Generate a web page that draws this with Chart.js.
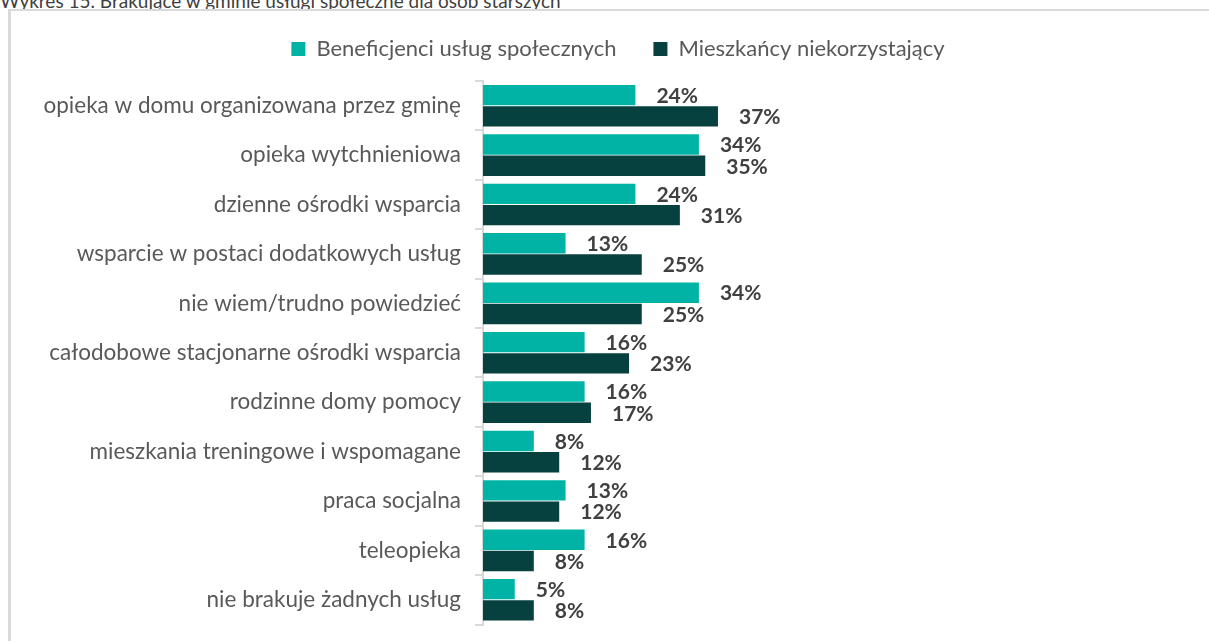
<!DOCTYPE html>
<html>
<head>
<meta charset="utf-8">
<script src="https://cdn.jsdelivr.net/npm/chart.js@4"></script>
<style>
    body { margin: 0; background: #fff; overflow: hidden; font-family: Lato, sans-serif; }
    #title { position: absolute; left: 0; top: -11px; font-size: 19px; color: #404040; white-space: nowrap; }
    #box { position: absolute; left: 8px; top: 9px; width: 1230px; height: 660px; border: 2px solid #d9d9d9; border-left-width: 3px; }
    #wrap { position: absolute; left: 10px; top: 12px; width: 1216px; height: 640px; }
</style>
</head>
<body>
<div id="title">Wykres 15. Brakujące w gminie usługi społeczne dla osób starszych</div>
<div id="box"></div>
<div id="wrap"><canvas id="chart"></canvas></div>
<script>
// categories and values (percent)
const categories = [
    'opieka w domu organizowana przez gminę',
    'opieka wytchnieniowa',
    'dzienne ośrodki wsparcia',
    'wsparcie w postaci dodatkowych usług',
    'nie wiem/trudno powiedzieć',
    'całodobowe stacjonarne ośrodki wsparcia',
    'rodzinne domy pomocy',
    'mieszkania treningowe i wspomagane',
    'praca socjalna',
    'teleopieka',
    'nie brakuje żadnych usług'
];
const beneficjenci = [24, 34, 24, 13, 34, 16, 16, 8, 13, 16, 5];
const mieszkancy = [37, 35, 31, 25, 25, 23, 17, 12, 12, 8, 8];
const seriesNames = ['Beneficjenci usług społecznych', 'Mieszkańcy niekorzystający'];

// draws "24%" style labels past the bar end
const valueLabels = {
    id: 'valueLabels',
    afterDatasetsDraw(chart) {
        const ctx = chart.ctx;
        ctx.save();
        ctx.font = 'bold 21px Lato';
        ctx.fillStyle = '#404040';
        ctx.textAlign = 'left';
        ctx.textBaseline = 'middle';
        chart.data.datasets.forEach((ds, i) => {
            chart.getDatasetMeta(i).data.forEach((bar, j) => {
                ctx.fillText(ds.data[j] + '%', bar.x + 21, bar.y + 1);
            });
        });
        ctx.restore();
    }
};

// leave a little more space under the legend
const legendGap = {
    id: 'legendGap',
    beforeInit(chart) {
        const fit = chart.legend.fit;
        chart.legend.fit = function () {
            fit.call(this);
            this.height += 11;
        };
    }
};

new Chart(document.getElementById('chart'), {
    type: 'bar',
    data: {
        labels: categories,
        datasets: [
            { label: seriesNames[0], data: beneficjenci, backgroundColor: '#00b3a4', borderWidth: 0,
              categoryPercentage: 0.86, barPercentage: 0.96 },
            { label: seriesNames[1], data: mieszkancy, backgroundColor: '#06403f', borderWidth: 0,
              categoryPercentage: 0.86, barPercentage: 0.96 }
        ]
    },
    options: {
        indexAxis: 'y',
        responsive: true,
        maintainAspectRatio: false,
        animation: false,
        layout: { padding: { top: 0, right: 0, bottom: 2, left: 0 } },
        scales: {
            x: { display: false, min: 0, max: 117 },
            y: {
                afterFit: s => { s.width = 473; },
                grid: { display: true, drawOnChartArea: false, tickLength: 8, color: '#d9d9d9', lineWidth: 2 },
                border: { color: '#d9d9d9', width: 2 },
                ticks: { font: { family: 'Lato', size: 22.5 }, color: '#595959', padding: 14 }
            }
        },
        plugins: {
            legend: {
                position: 'top',
                labels: {
                    font: { family: 'Lato', size: 22 },
                    color: '#595959',
                    boxWidth: 14,
                    boxHeight: 14,
                    padding: 26,
                    // a bit more room between the two entries
                    generateLabels: chart => {
                        const items = Chart.defaults.plugins.legend.labels.generateLabels(chart);
                        items[0].text = items[0].text + '\u2002';
                        return items;
                    }
                }
            },
            tooltip: { enabled: false }
        }
    },
    plugins: [valueLabels, legendGap]
});
</script>
</body>
</html>
